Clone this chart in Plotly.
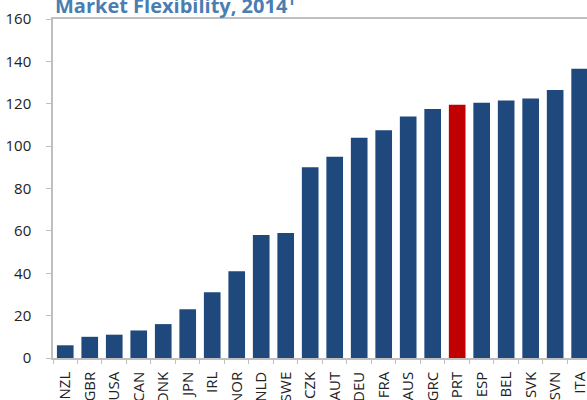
import plotly.graph_objects as go

countries = ["NZL", "GBR", "USA", "CAN", "DNK", "JPN", "IRL", "NOR", "NLD", "SWE",
             "CZK", "AUT", "DEU", "FRA", "AUS", "GRC", "PRT", "ESP", "BEL", "SVK",
             "SVN", "ITA"]
values = [6, 10, 11, 13, 16, 23, 31, 41, 58, 59,
          90, 95, 104, 107.5, 114, 117.5, 119.5, 120.5, 121.5, 122.5,
          126.5, 136.5]
highlight = "PRT"
y_ticks = [0, 20, 40, 60, 80, 100, 120, 140, 160]

BLUE = "#1f497d"
RED = "#c00000"
colors = [RED if c == highlight else BLUE for c in countries]

fig = go.Figure(go.Bar(
    x=countries, y=values,
    marker=dict(color=colors, line=dict(width=0)),
    width=0.68,
))

font_family = "Open Sans, Noto Sans, sans-serif"
fig.update_layout(
    width=587, height=400,
    margin=dict(l=53, r=0, t=19, b=42, autoexpand=False),
    paper_bgcolor="white", plot_bgcolor="white",
    showlegend=False,
    font=dict(family=font_family, size=15, color="#222222"),
    xaxis=dict(
        range=[-0.5, 21.3], automargin=False,
        showline=True, linecolor="#bfbfbf", linewidth=1.5, mirror=True,
        ticks="outside", tickson="boundaries", ticklen=4, tickcolor="#bfbfbf",
        tickangle=-90, ticklabelstandoff=6,
        tickfont=dict(size=15, color="#222222"),
        showgrid=False, zeroline=False,
    ),
    yaxis=dict(
        range=[0, 160], tickvals=y_ticks, automargin=False,
        showline=True, linecolor="#bfbfbf", linewidth=1.5,
        ticks="outside", ticklen=5, tickcolor="#bfbfbf",
        ticklabelstandoff=12,
        tickfont=dict(size=15, color="#222222"),
        showgrid=False, zeroline=False,
    ),
    annotations=[dict(
        text="<b>Market Flexibility, 2014<sup>1</sup></b>",
        xref="paper", yref="paper", x=0, y=1,
        xanchor="left", yanchor="bottom", yshift=-2, xshift=0,
        showarrow=False,
        font=dict(family=font_family, size=20, color="#4a7eb3"),
    )],
)

fig.write_html(
    "out.html",
    config={"displayModeBar": False},
    post_script="document.body.style.margin='0px';document.body.style.overflow='hidden';",
)
